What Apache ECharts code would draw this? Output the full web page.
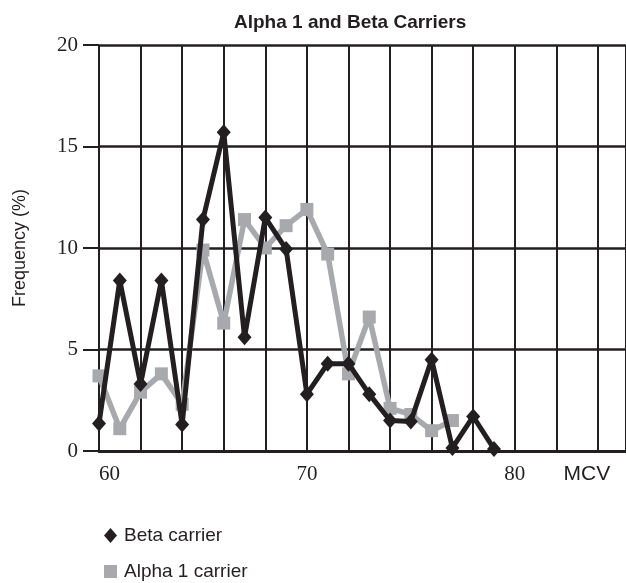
<!DOCTYPE html>
<html>
<head>
<meta charset="utf-8">
<script src="https://cdn.jsdelivr.net/npm/echarts@6/dist/echarts.min.js"></script>
<style>
  html, body { margin: 0; padding: 0; background: #ffffff; }
  #chart { width: 626px; height: 583px; }
</style>
</head>
<body>
<div id="chart"></div>
<script>
// MCV values (x) for each point
var mcvBeta  = [60, 61, 62, 63, 64, 65, 66, 67, 68, 69, 70, 71, 72, 73, 74, 75, 76, 77, 78, 79];
var betaFreq = [1.35, 8.4, 3.3, 8.4, 1.3, 11.4, 15.7, 5.6, 11.5, 9.95, 2.8, 4.3, 4.3, 2.8, 1.5, 1.45, 4.5, 0.15, 1.7, 0.1];

var mcvAlpha  = [60, 61, 62, 63, 64, 65, 66, 67, 68, 69, 70, 71, 72, 73, 74, 75, 76, 77];
var alphaFreq = [3.7, 1.1, 2.9, 3.8, 2.3, 9.9, 6.3, 11.4, 10.0, 11.1, 11.9, 9.7, 3.8, 6.6, 2.1, 1.8, 1.0, 1.5];

var xLabelValues = [60, 70, 80];
var yTicks = [0, 5, 10, 15, 20];

var title = 'Alpha 1 and Beta Carriers';
var yName = 'Frequency (%)';
var xName = 'MCV';
var betaName = 'Beta carrier';
var alphaName = 'Alpha 1 carrier';

function pairs(xs, ys) {
  return xs.map(function (x, i) { return [x, ys[i]]; });
}

var BLACK = '#231f20';
var GREY = '#a7a9ac';

var legendText = { fontFamily: 'Liberation Sans', fontSize: 19, color: BLACK, padding: [0, 0, 0, 2] };

var chart = echarts.init(document.getElementById('chart'));
chart.setOption({
  animation: false,
  backgroundColor: '#ffffff',
  title: {
    text: title,
    left: 229,
    top: 8,
    textStyle: { fontFamily: 'Liberation Sans', fontWeight: 'bold', fontSize: 19, color: BLACK }
  },
  legend: [
    {
      left: 99,
      top: 521,
      itemWidth: 13,
      itemHeight: 15,
      textStyle: legendText,
      data: [{ name: betaName, icon: 'diamond', itemStyle: { color: BLACK } }]
    },
    {
      left: 99,
      top: 557,
      itemWidth: 13,
      itemHeight: 13,
      textStyle: legendText,
      data: [{ name: alphaName, icon: 'rect', itemStyle: { color: GREY } }]
    }
  ],
  grid: { left: 99, right: 0, top: 45, bottom: 132, containLabel: false },
  xAxis: {
    type: 'value',
    min: 60,
    max: 85.35,
    interval: 2,
    axisLine: { show: true, onZero: false, lineStyle: { color: BLACK, width: 3 } },
    axisTick: { show: false },
    splitLine: { show: true, lineStyle: { color: BLACK, width: 2 } },
    axisLabel: {
      margin: 13,
      showMaxLabel: false,
      alignMinLabel: 'left',
      fontFamily: 'Liberation Serif',
      fontSize: 21,
      color: BLACK,
      formatter: function (v) {
        if (xLabelValues.indexOf(v) >= 0) return String(v);
        if (v === 84) return '{m|' + xName + '}';
        return '';
      },
      rich: {
        m: { fontFamily: 'Liberation Sans', fontSize: 21, color: BLACK, padding: [0, 22, 0, 0] }
      }
    }
  },
  yAxis: {
    type: 'value',
    min: 0,
    max: 20,
    interval: 5,
    name: yName,
    nameLocation: 'middle',
    nameGap: 70,
    nameTextStyle: { fontFamily: 'Liberation Sans', fontSize: 18, color: BLACK },
    axisLine: { show: false },
    axisTick: { show: true, length: 16, lineStyle: { color: BLACK, width: 2 } },
    splitLine: { show: true, lineStyle: { color: BLACK, width: 2.5 } },
    axisLabel: {
      margin: 21,
      fontFamily: 'Liberation Serif',
      fontSize: 21,
      color: BLACK,
      formatter: function (v) { return yTicks.indexOf(v) >= 0 ? String(v) : ''; }
    }
  },
  series: [
    {
      name: alphaName,
      type: 'line',
      data: pairs(mcvAlpha, alphaFreq),
      symbol: 'rect',
      symbolSize: 13,
      z: 3,
      lineStyle: { color: GREY, width: 5.5 },
      itemStyle: { color: GREY }
    },
    {
      name: betaName,
      type: 'line',
      data: pairs(mcvBeta, betaFreq),
      symbol: 'diamond',
      symbolSize: [14, 16],
      z: 4,
      lineStyle: { color: BLACK, width: 5 },
      itemStyle: { color: BLACK }
    }
  ]
});
</script>
</body>
</html>
